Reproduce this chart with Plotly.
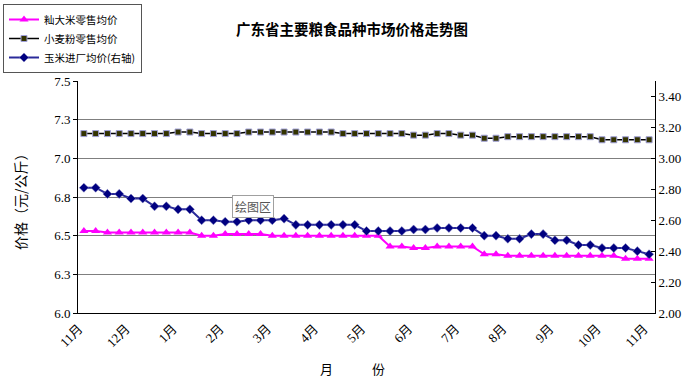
import plotly.graph_objects as go

# ---- data ----
month_labels = ['11月', '12月', '1月', '2月', '3月', '4月', '5月', '6月', '7月', '8月', '9月', '10月', '11月']

rice = [6.53, 6.53, 6.52, 6.52, 6.52, 6.52, 6.52, 6.52, 6.52, 6.52,
        6.50, 6.50, 6.51, 6.51, 6.51, 6.51, 6.50, 6.50, 6.50, 6.50,
        6.50, 6.50, 6.50, 6.50, 6.50, 6.50, 6.43, 6.43, 6.42, 6.42,
        6.43, 6.43, 6.43, 6.43, 6.38, 6.38, 6.37, 6.37, 6.37, 6.37,
        6.37, 6.37, 6.37, 6.37, 6.37, 6.37, 6.35, 6.35, 6.35]

wheat = [7.16, 7.16, 7.16, 7.16, 7.16, 7.16, 7.16, 7.16, 7.17, 7.17,
         7.16, 7.16, 7.16, 7.16, 7.17, 7.17, 7.17, 7.17, 7.17, 7.17,
         7.17, 7.17, 7.16, 7.16, 7.16, 7.16, 7.16, 7.16, 7.15, 7.15,
         7.16, 7.16, 7.15, 7.15, 7.13, 7.13, 7.14, 7.14, 7.14, 7.14,
         7.14, 7.14, 7.14, 7.14, 7.12, 7.12, 7.12, 7.12, 7.12]

corn = [2.81, 2.81, 2.77, 2.77, 2.74, 2.74, 2.69, 2.69, 2.67, 2.67,
        2.60, 2.60, 2.59, 2.59, 2.60, 2.60, 2.60, 2.61, 2.57, 2.57,
        2.57, 2.57, 2.57, 2.57, 2.53, 2.53, 2.53, 2.53, 2.54, 2.54,
        2.55, 2.55, 2.55, 2.55, 2.50, 2.50, 2.48, 2.48, 2.51, 2.51,
        2.47, 2.47, 2.44, 2.44, 2.42, 2.42, 2.42, 2.40, 2.38]

left_ticks = [6.0, 6.25, 6.5, 6.75, 7.0, 7.25, 7.5]
left_tick_text = ['6.0', '6.3', '6.5', '6.8', '7.0', '7.3', '7.5']
right_ticks = [2.0, 2.2, 2.4, 2.6, 2.8, 3.0, 3.2, 3.4]
right_tick_text = ['2.00', '2.20', '2.40', '2.60', '2.80', '3.00', '3.20', '3.40']

names = ['籼大米零售均价', '小麦粉零售均价', '玉米进厂均价(右轴)']
title_text = '广东省主要粮食品种市场价格走势图'

n = len(rice)
x = list(range(n))
label_pos = list(range(0, n, 4))
boundaries = [i - 0.5 for i in range(n + 1)]

CJK = "'Noto Sans CJK SC', sans-serif"
SERIF = "'Liberation Serif', 'Noto Sans CJK SC', serif"

fig = go.Figure()
fig.add_trace(go.Scatter(
    x=x, y=rice, name=names[0], mode='lines+markers',
    line=dict(color='#FF00FF', width=2),
    marker=dict(symbol='triangle-up', size=8, color='#FF00FF'),
))
fig.add_trace(go.Scatter(
    x=x, y=wheat, name=names[1], mode='lines+markers',
    line=dict(color='#000000', width=1.5),
    marker=dict(symbol='square', size=6, color='#333300', line=dict(color='#A0A0D8', width=1)),
))
fig.add_trace(go.Scatter(
    x=x, y=corn, name=names[2], mode='lines+markers', yaxis='y2',
    line=dict(color='#2A2A9A', width=2),
    marker=dict(symbol='diamond', size=7, color='#000080', line=dict(color='#8080C0', width=0.5)),
))

fig.update_layout(
    width=700, height=389,
    margin=dict(l=78, r=45, t=81, b=76, autoexpand=False),
    paper_bgcolor='white', plot_bgcolor='white',
    font=dict(family=CJK, size=11, color='#000000'),
    title=dict(text='<b>' + title_text + '</b>', x=0.503, xref='container', xanchor='center',
               y=(389 - 30) / 389, yref='container', yanchor='middle',
               font=dict(family=CJK, size=14.5, color='#000000')),
    showlegend=True,
    legend=dict(
        x=(3 - 78) / 577, xanchor='left', y=(313 - 4) / 232, yanchor='top',
        bordercolor='#555555', borderwidth=1, bgcolor='white',
        font=dict(family=CJK, size=10.5, color='#000000'),
        tracegroupgap=0, itemwidth=30,
    ),
    xaxis=dict(
        range=[-0.5, n - 0.5], showline=True, linecolor='#000000', linewidth=1,
        tickmode='array', tickvals=label_pos, ticktext=month_labels,
        ticks='', tickangle=-45, showgrid=False, zeroline=False,
        ticklabelshift=-5, ticklabelstandoff=2,
        tickfont=dict(family=SERIF, size=13, color='#000000'),
    ),
    xaxis2=dict(
        range=[-0.5, n - 0.5], overlaying='x', side='bottom', anchor='y',
        tickmode='array', tickvals=boundaries, showticklabels=False,
        ticks='inside', ticklen=4, tickcolor='#000000', tickwidth=1,
        showgrid=False, zeroline=False, showline=False,
    ),
    yaxis=dict(
        range=[6.0, 7.5], tickmode='array', tickvals=left_ticks, ticktext=left_tick_text,
        showline=True, linecolor='#000000', linewidth=1,
        ticks='outside', ticklen=4, tickcolor='#000000',
        showgrid=True, gridcolor='#7F7F7F', gridwidth=1, zeroline=False,
        tickfont=dict(family=SERIF, size=13, color='#000000'),
    ),
    yaxis2=dict(
        range=[2.0, 3.5], overlaying='y', side='right', anchor='x',
        tickmode='array', tickvals=right_ticks, ticktext=right_tick_text,
        showline=True, linecolor='#000000', linewidth=1,
        ticks='inside', ticklen=4, tickcolor='#000000',
        showgrid=False, zeroline=False,
        tickfont=dict(family=SERIF, size=13, color='#000000'),
    ),
)

fig.add_annotation(
    text='价格（元/公斤）', textangle=-90, xref='paper', yref='paper',
    x=(20 - 78) / 577, y=(313 - 198) / 232, xanchor='center', yanchor='middle', showarrow=False,
    font=dict(family=CJK, size=14, color='#000000'),
)
fig.add_annotation(
    text='月　　　份', xref='paper', yref='paper',
    x=(352 - 78) / 577, y=(313 - 368) / 232, xanchor='center', yanchor='middle', showarrow=False,
    font=dict(family=CJK, size=13, color='#000000'),
)
fig.add_annotation(
    text='绘图区', xref='paper', yref='paper',
    x=(253 - 78) / 577, y=(313 - 206) / 232, xanchor='center', yanchor='middle', showarrow=False,
    font=dict(family=CJK, size=12, color='#555555'),
    bgcolor='white', bordercolor='#A0A0A0', borderwidth=1, borderpad=2,
)

fig.write_html('out.html', config={'displayModeBar': False},
               post_script="document.body.style.margin='0';")
